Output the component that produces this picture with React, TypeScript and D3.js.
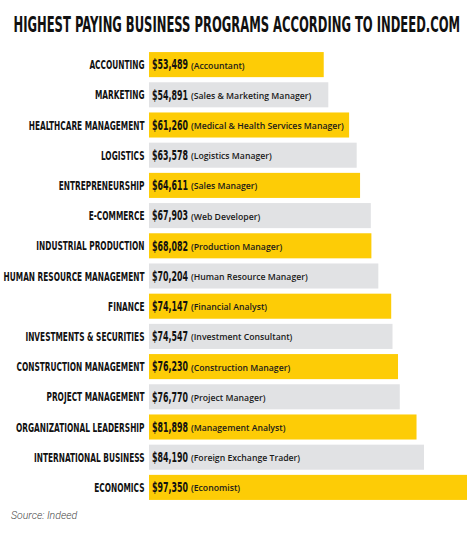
import { useRef, useEffect } from "react";
import * as d3 from "d3";

const programs = [
  "ACCOUNTING",
  "MARKETING",
  "HEALTHCARE MANAGEMENT",
  "LOGISTICS",
  "ENTREPRENEURSHIP",
  "E-COMMERCE",
  "INDUSTRIAL PRODUCTION",
  "HUMAN RESOURCE MANAGEMENT",
  "FINANCE",
  "INVESTMENTS & SECURITIES",
  "CONSTRUCTION MANAGEMENT",
  "PROJECT MANAGEMENT",
  "ORGANIZATIONAL LEADERSHIP",
  "INTERNATIONAL BUSINESS",
  "ECONOMICS",
];

const salaries = [
  53489, 54891, 61260, 63578, 64611, 67903, 68082, 70204, 74147, 74547, 76230,
  76770, 81898, 84190, 97350,
];

const jobs = [
  "Accountant",
  "Sales & Marketing Manager",
  "Medical & Health Services Manager",
  "Logistics Manager",
  "Sales Manager",
  "Web Developer",
  "Production Manager",
  "Human Resource Manager",
  "Financial Analyst",
  "Investment Consultant",
  "Construction Manager",
  "Project Manager",
  "Management Analyst",
  "Foreign Exchange Trader",
  "Economist",
];

const TITLE = "HIGHEST PAYING BUSINESS PROGRAMS ACCORDING TO INDEED.COM";

const W = 474;
const H = 536;
const YELLOW = "#fdcc06";
const GRAY = "#e1e2e4";
const CONDENSED = "'DejaVu Sans Condensed', 'Liberation Sans Narrow', sans-serif";

export default function App() {
  const svgRef = useRef<SVGSVGElement | null>(null);

  useEffect(() => {
    const svg = d3.select(svgRef.current);
    svg.selectAll("*").remove();

    const rows = programs.map((p, i) => ({
      program: p,
      salary: salaries[i],
      job: jobs[i],
      i,
    }));

    const x = d3.scaleLinear().domain([0, 97350]).range([149, 467]);
    const y = d3
      .scaleBand<string>()
      .domain(programs)
      .range([49.5, 502.5])
      .paddingInner(0.17)
      .paddingOuter(0.085);

    const fmt = d3.format("$,");

    // measure how much the condensed font must be squeezed to match
    const probe = (txt: string, size: number) => {
      const t = svg
        .append("text")
        .style("font-family", CONDENSED)
        .style("font-weight", 700)
        .style("font-size", `${size}px`)
        .text(txt);
      const w = (t.node() as SVGTextElement).getComputedTextLength();
      t.remove();
      return w;
    };
    const titleSqueeze = 447 / probe(TITLE, 21);
    const labelSqueeze = 141 / probe("HUMAN RESOURCE MANAGEMENT", 12.8);
    const valueSqueeze = 36 / probe(fmt(70204), 13.5);

    // title
    svg
      .append("text")
      .attr("transform", `translate(13.5,31.5) scale(${titleSqueeze},1)`)
      .style("font-family", CONDENSED)
      .style("font-weight", 700)
      .style("font-size", "21px")
      .attr("fill", "#111")
      .text(TITLE);

    const g = svg.selectAll("g.row").data(rows).join("g").attr("class", "row");

    g.append("rect")
      .attr("x", x(0))
      .attr("y", (d) => y(d.program)!)
      .attr("width", (d) => x(d.salary) - x(0))
      .attr("height", y.bandwidth())
      .attr("fill", (d) => (d.i % 2 === 0 ? YELLOW : GRAY));

    // category labels, squeezed horizontally to look condensed
    g.append("text")
      .attr(
        "transform",
        (d) =>
          `translate(144.5,${y(d.program)! + y.bandwidth() / 2 + 4.6}) scale(${labelSqueeze},1)`
      )
      .attr("text-anchor", "end")
      .style("font-family", CONDENSED)
      .style("font-weight", 700)
      .style("font-size", "12.8px")
      .attr("fill", "#111")
      .text((d) => d.program);

    // value + job title
    g.each(function (d) {
      const row = d3.select(this);
      const base = y(d.program)! + y.bandwidth() / 2 + 4.8;
      const val = row
        .append("text")
        .attr("transform", `translate(152,${base}) scale(${valueSqueeze},1)`)
        .style("font-family", CONDENSED)
        .style("font-weight", 700)
        .style("font-size", "13.5px")
        .attr("fill", "#111")
        .text(fmt(d.salary));
      const w = (val.node() as SVGTextElement).getComputedTextLength() * valueSqueeze;
      row
        .append("text")
        .attr("x", 152 + w + 3)
        .attr("y", base - 0.8)
        .style("font-family", "'Open Sans', sans-serif")
        .style("font-weight", 600)
        .style("font-size", "8.7px")
        .attr("fill", "#1a1a1a")
        .text(`(${d.job})`);
    });

    svg
      .append("text")
      .attr("x", 11)
      .attr("y", 519)
      .style("font-family", "Roboto, sans-serif")
      .style("font-style", "italic")
      .style("font-weight", 300)
      .style("font-size", "10.5px")
      .attr("fill", "#444")
      .text("Source: Indeed");
  }, []);

  return (
    <svg
      ref={svgRef}
      width={W}
      height={H}
      style={{ position: "fixed", top: 0, left: 0, background: "#fff" }}
    />
  );
}
